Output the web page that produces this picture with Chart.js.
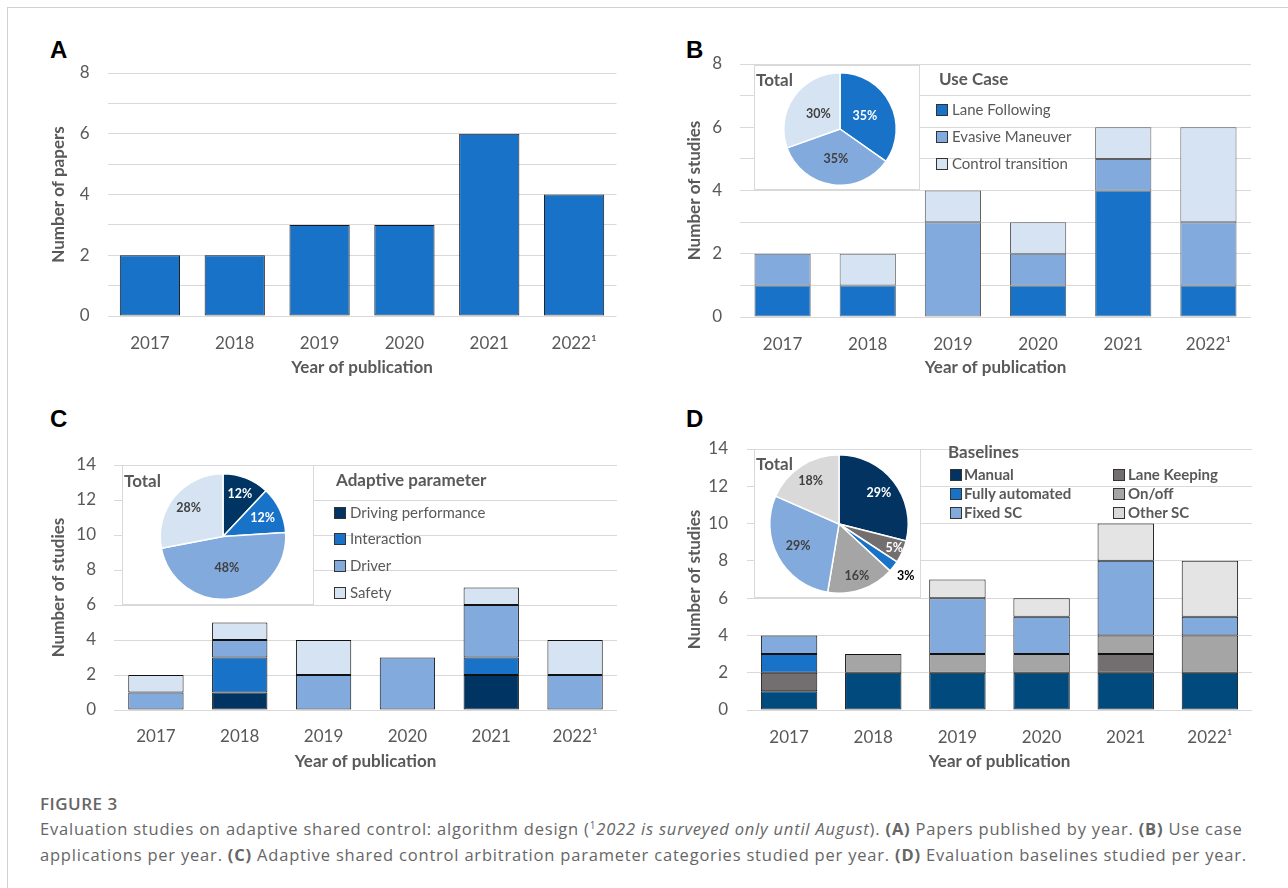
<!DOCTYPE html>
<html>
<head>
<meta charset="utf-8">
<script src="https://cdn.jsdelivr.net/npm/chart.js@4.4.1/dist/chart.umd.min.js"></script>
<style>
  body { margin: 0; width: 1288px; height: 888px; overflow: hidden; position: relative; background: #fff; font-family: Lato, "Open Sans", sans-serif; }
  .frame { position: absolute; left: 7px; top: 7px; width: 1300px; height: 900px; border: 1px solid #d0d0d0; }
  canvas { position: absolute; }
  .letter { position: absolute; font: bold 24px "Liberation Sans", Arial, sans-serif; line-height: 24px; color: #000; }
  .piebox { position: absolute; background: #fff; border: 1px solid #d9d9d9; box-sizing: border-box; z-index: 2; }
  .piebox canvas { left: -1px; top: -1px; }
  .total { position: absolute; left: 1px; font-weight: bold; font-size: 17px; line-height: 20px; color: #595959; z-index: 3; }
  .lg { position: absolute; white-space: nowrap; color: #595959; font-size: 15px; line-height: 18px; z-index: 2; }
  .lg.t { font-weight: bold; font-size: 17px; line-height: 20px; }
  .sw { display: inline-block; width: 10px; height: 10px; border: 1px solid #333; vertical-align: -1px; }
  .fig { position: absolute; left: 40px; top: 792px; font: 600 17px "Open Sans", sans-serif; color: #666; letter-spacing: 0.5px; }
  .cap { position: absolute; left: 40px; top: 816px; font: 16.5px/26px "Open Sans", sans-serif; color: #666; white-space: nowrap; letter-spacing: 0.8px; }
  .cap sup { font-size: 10px; vertical-align: 6px; line-height: 0; }
</style>
</head>
<body>
<div class="frame"></div>

<div class="letter" style="left:50px;top:38px">A</div>
<div class="letter" style="left:686px;top:38px">B</div>
<div class="letter" style="left:50px;top:407px">C</div>
<div class="letter" style="left:686px;top:407px">D</div>

<canvas id="chartA" width="610" height="325" style="left:20px;top:60px"></canvas>
<canvas id="chartB" width="620" height="335" style="left:650px;top:50px"></canvas>
<canvas id="chartC" width="610" height="330" style="left:20px;top:450px"></canvas>
<canvas id="chartD" width="620" height="345" style="left:650px;top:435px"></canvas>

<div class="piebox" style="left:754px;top:65px;width:166px;height:125px">
  <canvas id="pieB" width="166" height="125"></canvas>
  <div class="total" style="top:4px">Total</div>
</div>
<div class="piebox" style="left:122px;top:465px;width:192px;height:140px">
  <canvas id="pieC" width="192" height="140"></canvas>
  <div class="total" style="top:5px">Total</div>
</div>
<div class="piebox" style="left:754px;top:449px;width:167px;height:149px">
  <canvas id="pieD" width="167" height="149"></canvas>
  <div class="total" style="top:4px">Total</div>
</div>

<div id="legends"></div>

<div class="fig">FIGURE 3</div>
<div class="cap">Evaluation studies on adaptive shared control: algorithm design (<sup>1</sup><i>2022 is surveyed only until August</i>). <b>(A)</b> Papers published by year. <b>(B)</b> Use case<br>applications per year. <b>(C)</b> Adaptive shared control arbitration parameter categories studied per year. <b>(D)</b> Evaluation baselines studied per year.</div>

<script>
// --- data ---
const years = ['2017', '2018', '2019', '2020', '2021', '2022¹'];

const papers = [2, 2, 3, 3, 6, 4];

const useCaseLabels = ['Lane Following', 'Evasive Maneuver', 'Control transition'];
const laneFollowing = [1, 1, 0, 1, 4, 1];
const evasiveManeuver = [1, 0, 3, 1, 1, 2];
const controlTransition = [0, 1, 1, 1, 1, 3];

const paramLabels = ['Driving performance', 'Interaction', 'Driver', 'Safety'];
const drivingPerformance = [0, 1, 0, 0, 2, 0];
const interaction = [0, 2, 0, 0, 1, 0];
const driver = [1, 1, 2, 3, 3, 2];
const safety = [1, 1, 2, 0, 1, 2];

const baselineLabels = ['Manual', 'Lane Keeping', 'Fully automated', 'On/off', 'Fixed SC', 'Other SC'];
const manual = [1, 2, 2, 2, 2, 2];
const laneKeeping = [1, 0, 0, 0, 1, 0];
const fullyAutomated = [1, 0, 0, 0, 0, 0];
const onOff = [0, 1, 1, 1, 1, 2];
const fixedSC = [1, 0, 3, 2, 4, 1];
const otherSC = [0, 0, 1, 1, 2, 3];

const yLabelsAB = [0, 2, 4, 6, 8];
const yLabelsCD = [0, 2, 4, 6, 8, 10, 12, 14];

// --- colours ---
const BLUE = '#1872c8', MID = '#82aadc', PALE = '#d6e3f3', NAVY = '#003462';
const TXT = '#595959';

Chart.defaults.font.family = 'Lato, "Open Sans", sans-serif';

const sum = a => a.reduce((s, v) => s + v, 0);

function barChart(id, series, o) {
  return new Chart(document.getElementById(id), {
    type: 'bar',
    data: {
      labels: years,
      datasets: series.map(s => ({
        label: s.label,
        data: s.data,
        backgroundColor: s.color,
        borderColor: o.edge,
        borderWidth: c => (c.raw === 0 ? 0 : 1),
        borderSkipped: false,
        barPercentage: o.barPct,
        categoryPercentage: 1
      }))
    },
    options: {
      responsive: false,
      animation: false,
      events: [],
      layout: { padding: { left: 0, top: o.top, right: o.right, bottom: 0 } },
      plugins: { legend: { display: false }, tooltip: { enabled: false } },
      scales: {
        x: {
          stacked: true,
          grid: { display: false },
          border: { display: false },
          ticks: { color: TXT, font: { size: 17 }, padding: o.xtp, maxRotation: 0 },
          title: { display: true, text: 'Year of publication', color: TXT,
                   font: { size: 17, weight: 'bold' }, padding: { top: 0, bottom: o.xtb } },
          afterFit: s => { s.height = o.xh; s.paddingLeft = 0; s.paddingRight = 0; }
        },
        y: {
          stacked: true,
          min: 0,
          max: o.max,
          grid: { color: '#d9d9d9', drawTicks: false },
          border: { display: false },
          ticks: { stepSize: o.step, autoSkip: false, color: TXT, font: { size: 17 }, padding: o.ytp,
                   callback: v => (o.labels.includes(v) ? v : '') },
          title: { display: true, text: o.ytitle, color: TXT,
                   font: { size: 17, weight: 'bold' }, padding: { top: o.ytt, bottom: 0 } },
          afterFit: s => { s.width = o.yw; s.paddingTop = 0; s.paddingBottom = 0; }
        }
      }
    }
  });
}

// percentage labels on the pie slices
function pctLabels(rf, tc) {
  return {
    id: 'pct',
    afterDatasetsDraw(chart) {
      const ctx = chart.ctx;
      const data = chart.data.datasets[0].data;
      const total = sum(data);
      ctx.save();
      ctx.font = 'bold 12.5px Lato, "Open Sans", sans-serif';
      ctx.textAlign = 'center';
      ctx.textBaseline = 'middle';
      chart.getDatasetMeta(0).data.forEach((arc, i) => {
        const p = arc.getProps(['x', 'y', 'startAngle', 'endAngle', 'outerRadius'], true);
        const a = (p.startAngle + p.endAngle) / 2;
        const r = p.outerRadius * rf[i];
        ctx.fillStyle = tc[i];
        ctx.fillText(Math.round(data[i] / total * 100) + '%', p.x + Math.cos(a) * r, p.y + Math.sin(a) * r);
      });
      ctx.restore();
    }
  };
}

function pieChart(id, labels, data, colors, pad, rf, tc) {
  return new Chart(document.getElementById(id), {
    type: 'pie',
    data: { labels, datasets: [{ data, backgroundColor: colors, borderColor: '#fff', borderWidth: 1.5 }] },
    options: {
      responsive: false,
      animation: false,
      events: [],
      layout: { padding: pad },
      plugins: { legend: { display: false }, tooltip: { enabled: false } }
    },
    plugins: [pctLabels(rf, tc)]
  });
}

// A
barChart('chartA', [{ label: 'Papers', data: papers, color: BLUE }], {
  edge: '#1a1a1a', barPct: 0.71, top: 13, right: 13.5, xh: 69, yw: 87.5,
  xtp: 9, xtb: 7, ytp: 18, ytt: 28, max: 8, step: 1, labels: yLabelsAB, ytitle: 'Number of papers'
});

// B
const useCaseColors = [BLUE, MID, PALE];
barChart('chartB', [
  { label: useCaseLabels[0], data: laneFollowing, color: BLUE },
  { label: useCaseLabels[1], data: evasiveManeuver, color: MID },
  { label: useCaseLabels[2], data: controlTransition, color: PALE }
], {
  edge: '#606060', barPct: 0.66, top: 14, right: 19, xh: 68, yw: 90,
  xtp: 9, xtb: 7, ytp: 18, ytt: 34, max: 8, step: 1, labels: yLabelsAB, ytitle: 'Number of studies'
});
pieChart('pieB', useCaseLabels,
  [sum(laneFollowing), sum(evasiveManeuver), sum(controlTransition)], useCaseColors,
  { left: 29, top: 7, right: 23, bottom: 4 }, [0.5, 0.53, 0.47], ['#fff', '#404040', '#404040']);

// C
const paramColors = [NAVY, BLUE, MID, PALE];
barChart('chartC', [
  { label: paramLabels[0], data: drivingPerformance, color: NAVY },
  { label: paramLabels[1], data: interaction, color: BLUE },
  { label: paramLabels[2], data: driver, color: MID },
  { label: paramLabels[3], data: safety, color: PALE }
], {
  edge: '#111', barPct: 0.66, top: 15, right: 13, xh: 70, yw: 94,
  xtp: 8, xtb: 8, ytp: 18, ytt: 28, max: 14, step: 2, labels: yLabelsCD, ytitle: 'Number of studies'
});
pieChart('pieC', paramLabels,
  [sum(drivingPerformance), sum(interaction), sum(driver), sum(safety)], paramColors,
  { left: 37.5, top: 8, right: 27.5, bottom: 5 }, [0.73, 0.7, 0.5, 0.71], ['#fff', '#fff', '#404040', '#404040']);

// D
const baseBarColors = ['#014a7d', '#736e6f', BLUE, '#a5a5a5', MID, '#e4e4e4'];
const basePieColors = ['#023361', '#736e6f', BLUE, '#a5a5a5', MID, '#d9d9d9'];
const baseSeries = [manual, laneKeeping, fullyAutomated, onOff, fixedSC, otherSC];
barChart('chartD', baseSeries.map((d, i) => ({ label: baselineLabels[i], data: d, color: baseBarColors[i] })), {
  edge: '#111', barPct: 0.67, top: 14, right: 18, xh: 70, yw: 97,
  xtp: 9, xtb: 8, ytp: 19, ytt: 34, max: 14, step: 2, labels: yLabelsCD, ytitle: 'Number of studies'
});
pieChart('pieD', baselineLabels, baseSeries.map(sum), basePieColors,
  { left: 15, top: 5, right: 12, bottom: 4 }, [0.73, 0.87, 1.22, 0.8, 0.67, 0.75],
  ['#fff', '#fff', '#000', '#404040', '#404040', '#404040']);

// HTML legends
const host = document.getElementById('legends');
function legTitle(text, x, cy) {
  const d = document.createElement('div');
  d.className = 'lg t';
  d.style.left = x + 'px';
  d.style.top = (cy - 10) + 'px';
  d.textContent = text;
  host.appendChild(d);
}
function legItem(text, color, x, tx, cy, bold) {
  const d = document.createElement('div');
  d.className = 'lg';
  d.style.left = x + 'px';
  d.style.top = (cy - 9) + 'px';
  if (bold) d.style.fontWeight = 'bold';
  const s = document.createElement('span');
  s.className = 'sw';
  s.style.background = color;
  s.style.marginRight = (tx - x - 12) + 'px';
  d.appendChild(s);
  d.appendChild(document.createTextNode(text));
  host.appendChild(d);
}

legTitle('Use Case', 939, 79);
[109, 136, 163].forEach((cy, i) => legItem(useCaseLabels[i], useCaseColors[i], 936, 952, cy));

legTitle('Adaptive parameter', 336, 480);
[512, 538, 565, 592].forEach((cy, i) => legItem(paramLabels[i], paramColors[i], 334, 350, cy));

legTitle('Baselines', 948, 452);
const dRows = [474, 493, 512];
[0, 2, 4].forEach((k, r) => legItem(baselineLabels[k], basePieColors[k], 950, 964, dRows[r], true));
[1, 3, 5].forEach((k, r) => legItem(baselineLabels[k], basePieColors[k], 1113, 1128, dRows[r], true));
</script>
</body>
</html>
